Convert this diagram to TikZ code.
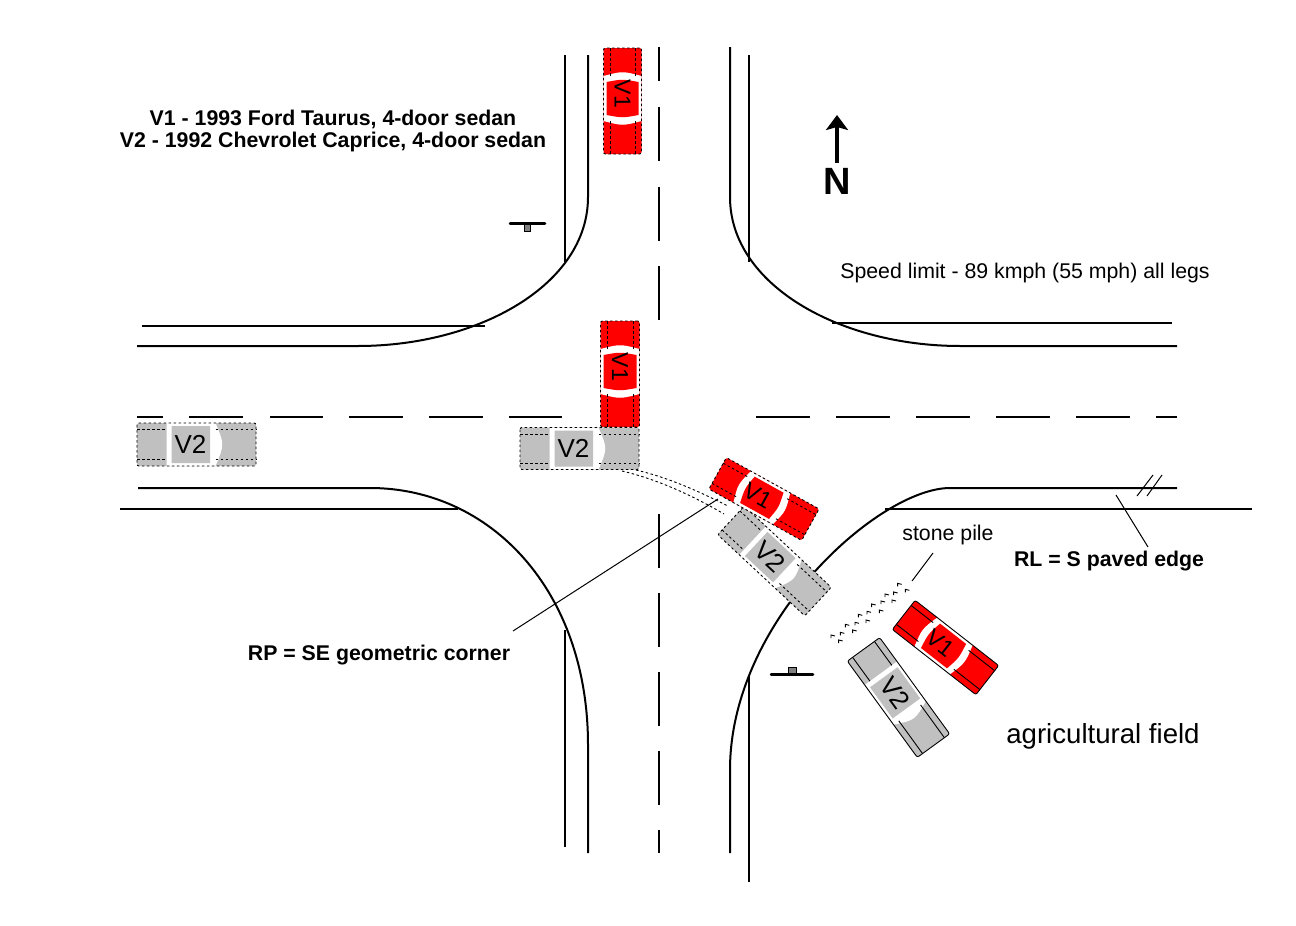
\documentclass[tikz,border=0pt]{standalone}
\usepackage{fontspec}
\setmainfont{Liberation Sans}
\usetikzlibrary{arrows.meta}
\definecolor{carred}{HTML}{FF0000}
\definecolor{cargray}{HTML}{C0C0C0}
\definecolor{signgray}{HTML}{808080}
\tikzset{
  road/.style={draw=black,line width=2pt},
  thin leader/.style={draw=black,line width=1pt},
  dashed car/.style={draw=black,line width=0.9pt,dash pattern=on 2.5pt off 2.5pt},
  solid car/.style={draw=black,line width=0.9pt},
  bold text/.style={font=\bfseries\fontsize{21.3}{25}\selectfont,inner sep=0pt},
  plain text/.style={font=\fontsize{21.3}{25}\selectfont,inner sep=0pt},
  centerline/.style={draw=black,line width=2pt},
}
% #1 name, #2 x, #3 y, #4 angle, #5 colour, #6 label, #7 line style, #8 length, #9 width
\newcommand\vehicle[9]{%
  \pgfmathsetmacro\hl{#8/2}\pgfmathsetmacro\hw{#9/2}\pgfmathsetmacro\hr{#9/2-3}\pgfmathsetmacro\hh{#9/2-6.5}
  \begin{scope}[shift={(#2,#3)},rotate=#4]
    \fill[#5,rounded corners=2pt] (-\hl,-\hw) rectangle (\hl,\hw);
    \fill[white] (\ca,-\hw) .. controls (\ca-\bowa,0) .. (\ca,\hw) -- (\cd,\hw) .. controls (\cd+\bowb,0) .. (\cd,-\hw) -- cycle;
    \fill[#5] (\cb,-\hr) .. controls (\cb-\rbow,0) .. (\cb,\hr) -- (\cc,\hr) .. controls (\cc+\rbow,0) .. (\cc,-\hr) -- cycle;
    \draw[#7,rounded corners=2pt] (-\hl,-\hw) rectangle (\hl,\hw);
    \draw[#7] (-\hl,-\hh) -- (\ca,-\hh) (-\hl,\hh) -- (\ca,\hh) (\cd,-\hh) -- (\hl,-\hh) (\cd,\hh) -- (\hl,\hh);
    \node[font=\fontsize{\lblsize}{\lblsize}\selectfont,inner sep=0pt,rotate=#4,text=black] (#1) at (\lbloff,0) {#6};
  \end{scope}}
% #1 name, #2 x, #3 y, #4 angle, #5 line style, #6 width
\newcommand\Vone[6]{\def\ca{-25}\def\cb{-19}\def\cc{14}\def\cd{20}\def\bowa{5}\def\bowb{5}\def\rbow{3}\def\lblsize{23}\def\lbloff{-7}%
  \vehicle{#1}{#2}{#3}{#4}{carred}{V1}{#5}{106}{#6}}
\newcommand\Vtwo[6]{\def\ca{-30}\def\cb{-25}\def\cc{13.5}\def\cd{19}\def\bowa{0}\def\bowb{9}\def\rbow{0}\def\lblsize{26}\def\lbloff{-6}%
  \vehicle{#1}{#2}{#3}{#4}{cargray}{V2}{#5}{119}{#6}}
\begin{document}
\begin{tikzpicture}[x=1pt,y=-1pt]
\useasboundingbox[fill=white] (0,0) rectangle (1296,926);

% road edges
\draw[road] (588,55) -- (588,197) .. controls (588,285) and (478,346) .. (358,346) -- (137,346);
\draw[road] (565,55) -- (565,262);
\draw[road] (142,326) -- (485,326);
\draw[road] (730,47) -- (730,197) .. controls (730,285) and (840,346) .. (960,346) -- (1177,346);
\draw[road] (749,55) -- (749,262);
\draw[road] (832,323) -- (1172,323);
\draw[road] (138,488) -- (370,488) .. controls (490,488) and (588,590) .. (588,745) -- (588,853);
\draw[road] (120,509) -- (458,509);
\draw[road] (565,630) -- (565,847);
\draw[road] (1177,488) -- (950,488) .. controls (880,488) and (730,620) .. (730,770) -- (730,853);
\draw[road] (749,675) -- (749,882);
\draw[road] (885,509) -- (1252,509);

% centre lines
\foreach \a/\b in {47/81,107/161,187/241,266/320,514/568,593/647,672/726,751/805,830/853}
  \draw[centerline] (659,\a) -- (659,\b);
\foreach \a/\b in {137/163,189/243,270/323,349/403,429/483,509/562,756/810,836/890,916/970,996/1050,1076/1130,1156/1177}
  \draw[centerline] (\a,416.5) -- (\b,416.5);

% skid marks
\draw[dashed car] (636,470) .. controls (670,478) and (700,492) .. (728,506);
\draw[dashed car] (622,471) .. controls (660,480) and (695,497) .. (724,514);

% signs
\fill[signgray,draw=black,line width=0.5pt] (524,224) rectangle (530,231);
\draw[black,line width=2.5pt,line cap=round] (510,223.5) -- (545,223.5);
\fill[signgray,draw=black,line width=0.5pt] (788,667) rectangle (796,674);
\draw[black,line width=2.5pt,line cap=round] (771,674.5) -- (813,674.5);

% vehicles
\Vone{va}{622.5}{101}{-90}{dashed car}{38}
\Vone{vb}{620}{374}{-90}{dashed car}{39}
\Vtwo{vc}{196.5}{444.5}{0}{dashed car}{43}
\Vtwo{vd}{579.5}{448.5}{0}{dashed car}{42}
\Vtwo{ve}{774.5}{561}{-43}{dashed car}{39}
\Vone{vf}{764}{499}{-29}{dashed car}{36}
\Vone{vg}{945.5}{647.5}{-38}{solid car}{37}
\Vtwo{vh}{898.5}{697.5}{-54}{solid car}{40}

% stones
\foreach \sx/\sy in {213/195,241/187,256/163,285/157,295/133,321/124,335/102,363/93,375/72,401/66,413/40,236/210,278/180,318/150,358/120,396/90,436/58}
  \draw[black,line width=0.9pt] ({760+\sx/3},{570+\sy/3+3}) -- ({760+\sx/3},{570+\sy/3}) -- ({760+\sx/3+4},{570+\sy/3+1});

% leaders
\draw[thin leader] (513,631) -- (718,499);
\draw[thin leader] (1116,495) -- (1148,547);
\draw[thin leader] (912,581) -- (933,553);
\draw[thin leader] (1137,496) -- (1153,475);
\draw[thin leader] (1147,496) -- (1162,475);

% north arrow
\draw[black,line width=4pt,-{Stealth[width=22pt,length=15pt,inset=3pt]}] (837,163) -- (837,115);
\node[inner sep=0pt,font=\bfseries\fontsize{38}{38}\selectfont] (north) at (837,181) {N};

% labels
\node[bold text] (t1) at (333,119.5) {V1 - 1993 Ford Taurus, 4-door sedan};
\node[bold text] (t2) at (333,141.5) {V2 - 1992 Chevrolet Caprice, 4-door sedan};
\node[plain text] (t3) at (1025,273) {Speed limit - 89 kmph (55 mph) all legs};
\node[plain text] (t4) at (948,535) {stone pile};
\node[bold text] (t5) at (1109,561) {RL = S paved edge};
\node[bold text] (t6) at (379,655.5) {RP = SE geometric corner};
\node[inner sep=0pt,font=\fontsize{27.6}{30}\selectfont] (t7) at (1103,736) {agricultural field};
\end{tikzpicture}
\end{document}
